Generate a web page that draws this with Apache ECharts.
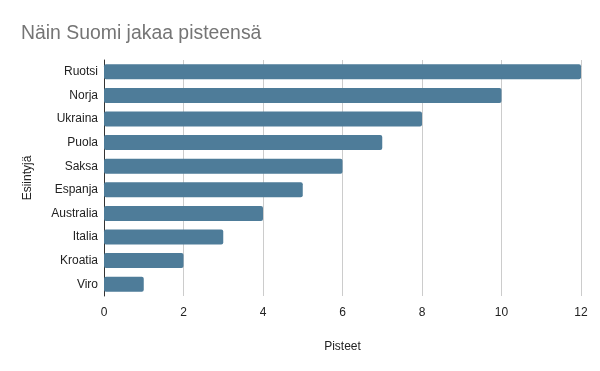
<!DOCTYPE html>
<html><head><meta charset="utf-8">
<script src="https://cdn.jsdelivr.net/npm/echarts@6/dist/echarts.min.js"></script>
<style>html,body{margin:0;padding:0;background:#fff}#c{width:600px;height:371px}</style>
</head><body><div id="c"></div>
<script>
const categories = ['Ruotsi','Norja','Ukraina','Puola','Saksa','Espanja','Australia','Italia','Kroatia','Viro'];
const points = [12,10,8,7,6,5,4,3,2,1];
const xTicks = {min:0, max:12, interval:2};
const F = 'Liberation Sans, Arial, sans-serif';
const chart = echarts.init(document.getElementById('c'));
chart.setOption({
  animation:false,
  textStyle:{fontFamily:F},
  title:{text:'Näin Suomi jakaa pisteensä', left:16, top:19,
    textStyle:{fontFamily:F, fontSize:19.4, fontWeight:'normal', color:'#757575'}},
  grid:{left:104, right:19, top:60, bottom:75, containLabel:false},
  xAxis:{type:'value', min:xTicks.min, max:xTicks.max, interval:xTicks.interval,
    name:'Pisteet', nameLocation:'middle', nameGap:45,
    nameTextStyle:{fontFamily:F, fontSize:12, color:'#222'},
    axisLine:{show:false}, axisTick:{show:false},
    axisLabel:{fontFamily:F, fontSize:12, color:'#222', margin:11},
    splitLine:{lineStyle:{color:'#cccccc', width:1}}},
  yAxis:{type:'category', data:categories, inverse:true,
    name:'Esiintyjä', nameLocation:'middle', nameGap:70, nameRotate:90,
    nameTextStyle:{fontFamily:F, fontSize:12, color:'#222'},
    axisLine:{show:true, lineStyle:{color:'#333', width:1}}, axisTick:{show:false},
    axisLabel:{fontFamily:F, fontSize:12, color:'#222', margin:6}},
  series:[{type:'bar', data:points, barWidth:15,
    itemStyle:{color:'#4e7c99', borderRadius:2}}]
});
</script></body></html>
